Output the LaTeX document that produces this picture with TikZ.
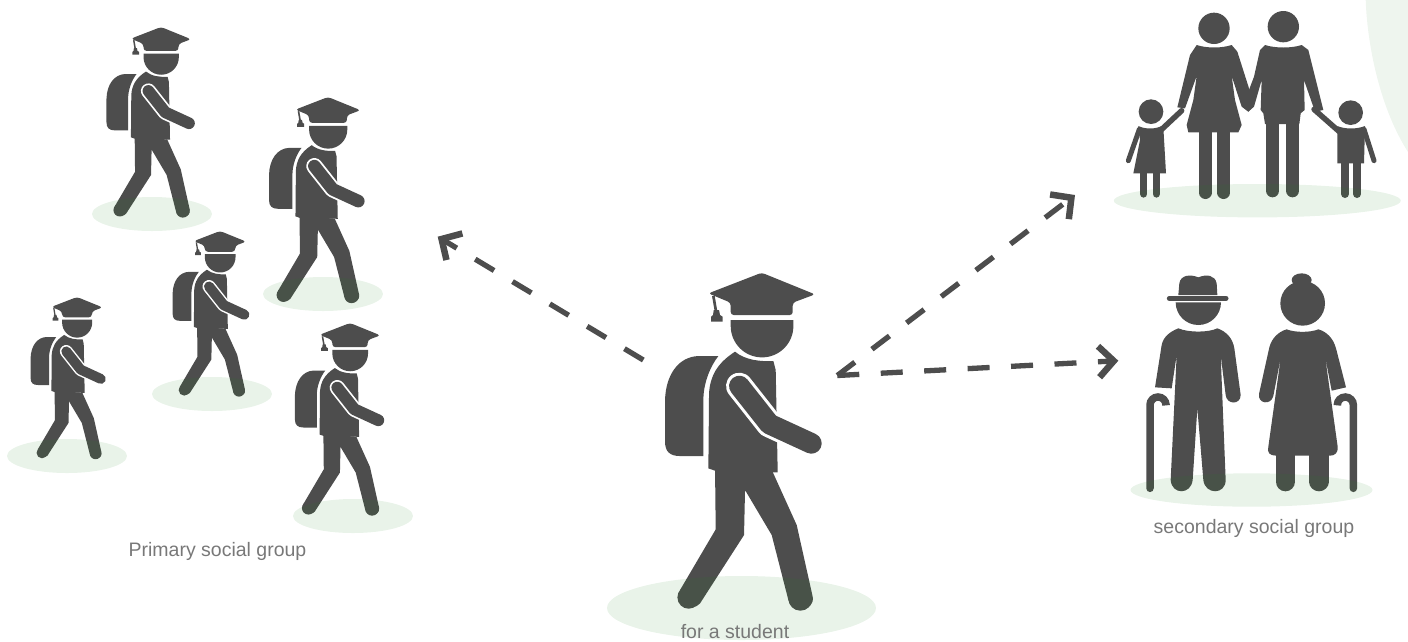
\documentclass[tikz,border=0pt]{standalone}
\usepackage{fontspec}
\setmainfont{Liberation Sans}
\usetikzlibrary{arrows.meta}
\definecolor{fig}{HTML}{4D4D4D}
\definecolor{ground}{rgb}{0.137,0.53,0.137}
\definecolor{corner}{HTML}{EEF5EE}
\definecolor{labeltext}{HTML}{787878}
\tikzset{
  dasharrow/.style={draw=fig,line width=5.3pt,dash pattern=on 22pt off 21.5pt,-{Straight Barb[length=15pt,width=31pt,line width=6.5pt]}},
  grouplabel/.style={text=labeltext,font=\fontsize{19.5}{22}\selectfont,inner sep=0pt},
  shadow/.style={fill=ground,fill opacity=0.1}
}
\newcommand{\studentfig}[3]{%
\begin{scope}[shift={(#1,#2)},scale={#3/3},shift={(-485,-38)}]
\pgfmathsetmacro\armw{62*#3/3}
\pgfmathsetmacro\armo{80*#3/3}
\pgfmathsetmacro\stemw{8*#3/3}
\fill[fig,rounded corners=3pt] (485,38) -- (645,103) -- (578,128) -- (578,165) -- (392,165) -- (392,128) -- (325,100) -- cycle;
\draw[fig,line width=\stemw pt] (340,108) -- (349,160);
\fill[fig] (341,150) -- (357,150) -- (360,165) -- (368,170) -- (368,185) -- (333,185) -- (333,170) -- (339,165) -- cycle;
\fill[fig] (392,180) -- (580,180) -- (580,198) arc[start angle=0,end angle=180,radius=94] -- cycle;
\fill[fig] (355,288) -- (295,288) .. controls (235,290) and (197,345) .. (195,420) -- (195,545) .. controls (195,575) and (210,588) .. (240,588) -- (310,588) -- (310,420) .. controls (310,370) and (330,320) .. (355,288) -- cycle;
\fill[fig] (405,275) .. controls (435,300) and (480,305) .. (520,303) -- (527,330) -- (533,637) -- (345,632) -- (325,625) -- (327,400) .. controls (330,350) and (350,310) .. (405,275) -- cycle;
\fill[fig] (345,625) -- (347,808) -- (240,990) .. controls (222,1025) and (275,1060) .. (300,1030) -- (432,825) -- (435,690) -- (515,825) -- (565,1020) .. controls (575,1060) and (645,1055) .. (638,1010) -- (590,795) -- (518,636) -- cycle;
\fill[fig] (266,1012) circle[radius=34];
\fill[fig] (601,1016) circle[radius=36];
\draw[white,line width=\armo pt,line cap=round,line join=round] (418,378) -- (508,492) -- (634,550);
\draw[fig,line width=\armw pt,line cap=round,line join=round] (418,378) -- (508,492) -- (634,550);
\end{scope}}
\begin{document}
\begin{tikzpicture}[x=1pt,y=-1pt]
\useasboundingbox (0,0) rectangle (1408,641);
\fill[corner] (1365.7,0) .. controls (1367,40) and (1378,105) .. (1408,152) -- (1408,0) -- cycle;
% students
\studentfig{161}{27}{0.564}
\studentfig{328}{97}{0.61}
\studentfig{220}{231}{0.49}
\studentfig{77}{297}{0.48}
\studentfig{350}{323}{0.57}
\studentfig{761.7}{272.7}{1}
% family
\begin{scope}[shift={(1100,0)},scale=1/3]
\fill[fig] (342,85) circle[radius=47];
\fill[fig] (550,80) circle[radius=47];
\fill[fig] (153,335) circle[radius=37];
\fill[fig] (752,338) circle[radius=37];
% woman
\fill[fig] (290,135) .. controls (320,145) and (365,145) .. (395,135) -- (412,155) -- (447,265) -- (462,315) -- (445,335) -- (425,320) -- (395,228) -- (405,300) -- (425,375) -- (415,397) -- (265,397) -- (260,375) -- (280,300) -- (290,228) -- (255,325) -- (232,322) -- (270,165) -- cycle;
\draw[fig,line width=12.7pt,line cap=round] (316,390) -- (316,578);
\draw[fig,line width=12.7pt,line cap=round] (371,390) -- (371,578);
% man
\fill[fig] (495,135) .. controls (525,145) and (575,145) .. (605,135) -- (625,150) -- (670,330) -- (645,335) -- (612,240) -- (614,330) -- (602,340) -- (598,372) -- (495,372) -- (490,340) -- (482,330) -- (485,240) -- (462,320) -- (445,335) -- (428,320) -- (462,230) -- (480,150) -- cycle;
\draw[fig,line width=13.3pt,line cap=round] (518,360) -- (518,572);
\draw[fig,line width=13.3pt,line cap=round] (578,360) -- (578,572);
% left child
\fill[fig] (115,378) .. controls (135,388) and (165,388) .. (185,378) -- (190,382) -- (198,520) -- (100,520) -- (120,420) -- cycle;
\draw[fig,line width=5pt,line cap=round] (118,388) -- (85,482);
\draw[fig,line width=5.5pt,line cap=round] (183,390) -- (245,332);
\draw[fig,line width=7.3pt,line cap=round] (131,515) -- (131,582);
\draw[fig,line width=7.3pt,line cap=round] (169,515) -- (169,582);
% right child
\fill[fig] (712,378) .. controls (735,388) and (770,388) .. (795,378) -- (792,490) -- (712,490) -- cycle;
\draw[fig,line width=5pt,line cap=round] (792,388) -- (822,482);
\draw[fig,line width=5.5pt,line cap=round] (718,395) -- (642,328);
\draw[fig,line width=8pt,line cap=round] (735,485) -- (735,582);
\draw[fig,line width=8pt,line cap=round] (771,485) -- (771,582);
\end{scope}
% elderly
\begin{scope}[shift={(1110,260)},scale=1/3]
% old man
\fill[fig] (205,105) -- (208,70) .. controls (212,45) and (240,42) .. (265,52) .. controls (290,42) and (315,45) .. (320,70) -- (322,105) -- cycle;
\draw[fig,line width=5pt,line cap=round] (178,115) -- (348,115);
\fill[fig] (197,127) -- (333,127) arc[start angle=0,end angle=180,radius=68] -- cycle;
\fill[fig] (205,205) .. controls (235,218) and (295,218) .. (322,205) .. controls (350,215) and (368,235) .. (373,265) -- (392,405) .. controls (392,435) and (350,435) .. (347,405) -- (332,285) -- (347,660) .. controls (347,705) and (285,705) .. (280,660) -- (262,445) -- (248,660) .. controls (243,705) and (185,705) .. (182,660) -- (200,285) -- (185,385) -- (135,382) -- (155,255) .. controls (160,230) and (180,215) .. (205,205) -- cycle;
\draw[fig,line width=7.5pt,line cap=round] (120,685) -- (120,435) arc[start angle=180,end angle=360,radius=24] -- (168,432);
% old woman
\fill[fig] (575,60) ellipse[x radius=30,y radius=20];
\fill[fig] (578,130) circle[radius=67];
\fill[fig] (530,208) .. controls (555,218) and (600,218) .. (625,208) .. controls (650,215) and (670,235) .. (678,265) -- (708,382) -- (665,392) -- (645,288) -- (683,560) .. controls (685,578) and (675,587) .. (660,587) -- (498,587) .. controls (480,587) and (470,578) .. (475,560) -- (513,288) -- (490,408) .. controls (482,438) and (442,430) .. (447,402) -- (478,262) .. controls (485,235) and (505,215) .. (530,208) -- cycle;
\draw[fig,line width=19.3pt,line cap=round] (526,580) -- (526,665);
\draw[fig,line width=19.3pt,line cap=round] (627,580) -- (627,665);
\draw[fig,line width=7.5pt,line cap=round] (730,685) -- (730,435) arc[start angle=0,end angle=-180,radius=24] -- (682,432);
\end{scope}
% ground shadows
\fill[shadow] (152,214) ellipse[x radius=60,y radius=17];
\fill[shadow] (323,294) ellipse[x radius=60,y radius=17];
\fill[shadow] (212,394) ellipse[x radius=60,y radius=17];
\fill[shadow] (67,456) ellipse[x radius=60,y radius=17];
\fill[shadow] (353,516) ellipse[x radius=60,y radius=17];
\fill[shadow] (741.5,608) ellipse[x radius=134.5,y radius=32];
\fill[shadow] (1257.3,200.7) ellipse[x radius=143.5,y radius=16.7];
\fill[shadow] (1251.5,490) ellipse[x radius=121,y radius=16.7];
% connectors
\coordinate (hubr) at (837.3,375.5);
\coordinate (hubl) at (643.3,360);
\coordinate (primary) at (437.7,236.7);
\coordinate (family) at (1075,195);
\coordinate (elders) at (1118.3,360.7);
\draw[dasharrow] (hubl) -- (primary);
\draw[dasharrow] (hubr) -- (family);
\draw[dasharrow] (hubr) -- (elders);
% labels
\node[grouplabel] (lprimary) at (217.5,551) {Primary social group};
\node[grouplabel] (lsecondary) at (1254,528) {secondary social group};
\node[grouplabel] (lstudent) at (735,632) {for a student};
\end{tikzpicture}
\end{document}
